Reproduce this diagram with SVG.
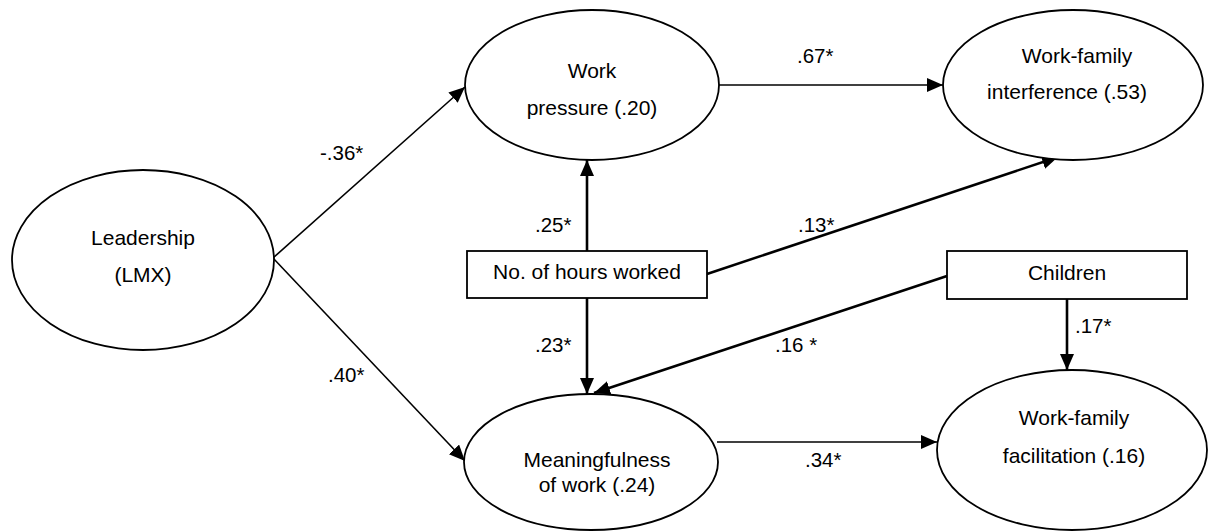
<svg xmlns="http://www.w3.org/2000/svg" width="1209" height="531" viewBox="0 0 1209 531">
<style>
.n{fill:#fff;stroke:#000;stroke-width:1.8}
.t{font-family:"Liberation Sans",Arial,sans-serif;font-size:21px;fill:#000;text-anchor:middle}
.l{font-family:"Liberation Sans",Arial,sans-serif;font-size:20.5px;fill:#000}
.c{fill:none;stroke:#000;stroke-width:1.6}
.k{fill:none;stroke:#000;stroke-width:2.6}
</style>
<defs>
<marker id="a" markerUnits="userSpaceOnUse" markerWidth="18" markerHeight="16" refX="16" refY="7" orient="auto">
<path d="M0,0 L16,7 L0,14 Z" fill="#000"/>
</marker>
</defs>
<rect width="1209" height="531" fill="#fff"/>
<g id="connectors">
<line class="c" x1="273" y1="258" x2="465" y2="87" marker-end="url(#a)"/>
<line class="c" x1="273" y1="258" x2="465" y2="461" marker-end="url(#a)"/>
<line class="c" x1="719" y1="85" x2="943" y2="85" marker-end="url(#a)"/>
<line class="k" x1="587" y1="251" x2="587" y2="160" marker-end="url(#a)"/>
<line class="k" x1="587" y1="298" x2="587" y2="394" marker-end="url(#a)"/>
<line class="k" x1="707" y1="274" x2="1058" y2="157" marker-end="url(#a)"/>
<line class="k" x1="947" y1="276" x2="594" y2="393" marker-end="url(#a)"/>
<line class="k" x1="1067" y1="299" x2="1067" y2="370" marker-end="url(#a)"/>
<line class="c" x1="717" y1="442" x2="937" y2="442" marker-end="url(#a)"/>
<text class="l" x="320" y="160">-.36*</text>
<text class="l" x="328" y="382">.40*</text>
<text class="l" x="797" y="63">.67*</text>
<text class="l" x="535" y="232">.25*</text>
<text class="l" x="535" y="352">.23*</text>
<text class="l" x="798" y="232">.13*</text>
<text class="l" x="775" y="352">.16 *</text>
<text class="l" x="1075" y="333">.17*</text>
<text class="l" x="805" y="467">.34*</text>
</g>
<g id="leadership">
<ellipse class="n" cx="143" cy="260" rx="131" ry="90"/>
<text class="t" x="143" y="245">Leadership</text>
<text class="t" x="143" y="282">(LMX)</text>
</g>
<g id="work-pressure">
<ellipse class="n" cx="592" cy="85" rx="127" ry="75"/>
<text class="t" x="592" y="78">Work</text>
<text class="t" x="592" y="115">pressure (.20)</text>
</g>
<g id="work-family-interference">
<ellipse class="n" cx="1073" cy="85" rx="130" ry="75"/>
<text class="t" x="1077" y="63">Work-family</text>
<text class="t" x="1067" y="99">interference (.53)</text>
</g>
<g id="hours">
<rect class="n" x="467" y="251" width="240" height="47"/>
<text class="t" x="587" y="279">No. of hours worked</text>
</g>
<g id="children">
<rect class="n" x="947" y="251" width="240" height="48"/>
<text class="t" x="1067" y="280">Children</text>
</g>
<g id="meaningfulness">
<ellipse class="n" cx="591" cy="462" rx="127" ry="68"/>
<text class="t" x="597" y="467">Meaningfulness</text>
<text class="t" x="597" y="492">of work (.24)</text>
</g>
<g id="work-family-facilitation">
<ellipse class="n" cx="1072" cy="450" rx="135" ry="80"/>
<text class="t" x="1074" y="425">Work-family</text>
<text class="t" x="1074" y="463">facilitation (.16)</text>
</g>
</svg>
